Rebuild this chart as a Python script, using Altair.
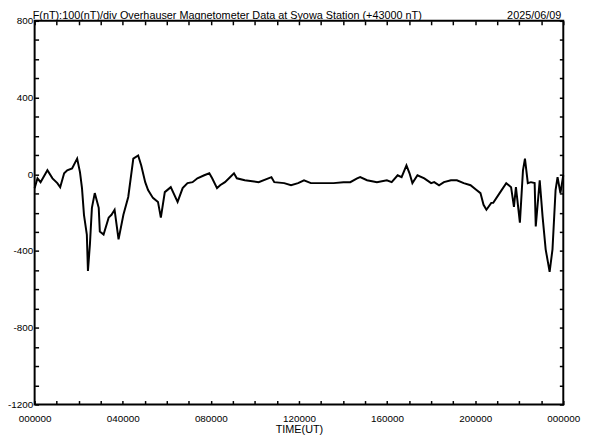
import altair as alt
import pandas as pd

# Time (hours UT) and total-force deviation from 43000 nT
hours = [0.00, 0.13, 0.27, 0.58, 0.81, 1.03, 1.16, 1.34, 1.48, 1.70, 1.93, 2.06, 2.15, 2.24,
         2.37, 2.42, 2.51, 2.60, 2.73, 2.91, 2.96, 3.13, 3.36, 3.49, 3.63, 3.81, 4.03, 4.25,
         4.48, 4.70, 4.84, 5.02, 5.15, 5.37, 5.60, 5.73, 5.91, 6.18, 6.49, 6.72, 6.94, 7.17,
         7.39, 7.70, 7.93, 8.06, 8.28, 8.42, 8.64, 8.87, 9.05, 9.18, 9.54, 10.17, 10.61,
         10.75, 10.88, 11.33, 11.64, 11.96, 12.23, 12.54, 13.12, 13.57, 14.02, 14.33, 14.64,
         14.78, 15.09, 15.54, 15.99, 16.21, 16.48, 16.66, 16.88, 17.02, 17.15, 17.38, 17.69,
         18.00, 18.14, 18.36, 18.58, 18.90, 19.17, 19.48, 19.79, 20.06, 20.24, 20.38, 20.51,
         20.73, 20.82, 21.14, 21.41, 21.63, 21.76, 21.85, 22.03, 22.17, 22.26, 22.39, 22.53,
         22.70, 22.75, 22.93, 23.06, 23.20, 23.38, 23.51, 23.65, 23.74, 23.87, 24.00]
values = [-72, -21, -41, 21, -21, -46, -67, 5, 21, 31, 82, 10, -72, -211,
          -314, -504, -365, -175, -98, -175, -298, -314, -226, -211, -185, -339, -211, -118,
          82, 98, 46, -41, -82, -123, -144, -226, -93, -67, -144, -72, -46, -41,
          -21, -5, 5, -21, -72, -57, -41, -15, 5, -21, -31, -41, -21,
          -15, -41, -46, -57, -46, -31, -46, -46, -46, -41, -41, -21,
          -15, -31, -41, -31, -41, -5, -15, 46, 5, -46, -5, -21,
          -46, -41, -57, -41, -31, -31, -46, -57, -82, -98, -159, -185,
          -149, -149, -93, -46, -67, -170, -67, -252, 21, 82, -46, -41,
          -46, -272, -31, -221, -391, -509, -391, -82, -15, -98, -5]

x_tick_values = list(range(0, 25))
y_tick_values = list(range(-1200, 801, 100))

title_text = "F(nT):100(nT)/div  Overhauser Magnetometer Data at Syowa Station (+43000 nT)"
date_text = "2025/06/09"

df = pd.DataFrame({"hour": hours, "nT": values})

FONT = "Liberation Sans"
xscale = alt.Scale(domain=[0, 24], nice=False, zero=False)
yscale = alt.Scale(domain=[-1200, 800], nice=False, zero=False)

x_label_expr = ("datum.value % 4 == 0 ? (((datum.value % 24) < 10 ? '0' : '') + "
                "(datum.value % 24) + '0000') : ''")
y_label_expr = "datum.value % 400 == 0 ? ('' + datum.value) : ''"

line = alt.Chart(df).mark_line(color="black", strokeWidth=2).encode(
    x=alt.X("hour:Q", scale=xscale,
            axis=alt.Axis(orient="bottom", values=x_tick_values, offset=-4, tickSize=4,
                          tickColor="black", tickWidth=1.5, domain=False, grid=False,
                          labelExpr=x_label_expr, labelPadding=9, labelFontSize=10,
                          labelFont=FONT, labelColor="black", labelOverlap=False,
                          labelFlush=False, labelBound=False,
                          title="TIME(UT)", titleFont=FONT, titleFontSize=11,
                          titleFontWeight="normal", titleColor="black", titlePadding=0)),
    y=alt.Y("nT:Q", scale=yscale,
            axis=alt.Axis(orient="left", values=y_tick_values, offset=-4, tickSize=4,
                          tickColor="black", tickWidth=1.5, domain=False, grid=False,
                          labelExpr=y_label_expr, labelPadding=2, labelFontSize=10,
                          labelFont=FONT, labelColor="black", labelOverlap=False,
                          labelFlush=False, labelBound=False, title=None)),
)

frame_axes = alt.Chart(df).mark_line(opacity=0).encode(
    x=alt.X("hour:Q", scale=xscale,
            axis=alt.Axis(orient="top", values=x_tick_values, offset=-4, tickSize=4,
                          tickColor="black", tickWidth=1.5, domain=False, grid=False,
                          labels=False, title=None)),
    y=alt.Y("nT:Q", scale=yscale,
            axis=alt.Axis(orient="right", values=y_tick_values, offset=-4, tickSize=4,
                          tickColor="black", tickWidth=1.5, domain=False, grid=False,
                          labels=False, title=None)),
)

title_layer = alt.Chart(pd.DataFrame({"t": [title_text]})).mark_text(
    align="left", baseline="alphabetic", font=FONT, fontSize=11, color="black"
).encode(text="t:N", x=alt.value(-2), y=alt.value(-2))

date_layer = alt.Chart(pd.DataFrame({"t": [date_text]})).mark_text(
    align="right", baseline="alphabetic", font=FONT, fontSize=11, color="black"
).encode(text="t:N", x=alt.value(534), y=alt.value(-2))

chart = alt.layer(line, frame_axes, title_layer, date_layer).resolve_scale(
    x="independent", y="independent"
).properties(
    width=536, height=389,
    autosize=alt.AutoSizeParams(type="none"),
    padding={"left": 27, "top": 10, "right": 21, "bottom": 34},
    background="white",
).configure_view(stroke="black", strokeWidth=2)

chart.save("out.html", embed_options={"renderer": "svg", "actions": False})
